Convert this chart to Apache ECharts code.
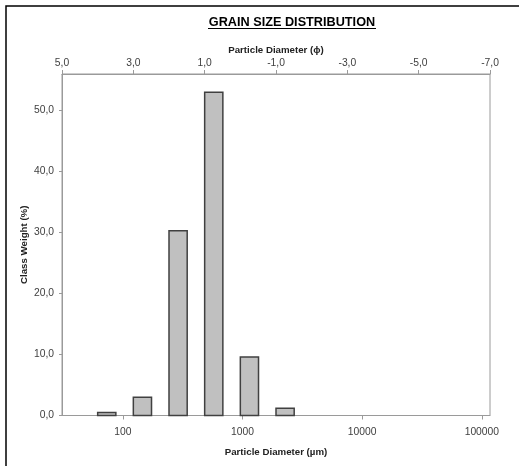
<!DOCTYPE html>
<html>
<head>
<meta charset="utf-8">
<script src="https://cdn.jsdelivr.net/npm/echarts@6/dist/echarts.min.js"></script>
<style>
html,body{margin:0;padding:0;background:#fff;}
#c{width:519px;height:466px;}
</style>
</head>
<body>
<div id="c"></div>
<script>
// Class lower bound in phi units (left edge of each bar on the phi axis)
const phiClasses = [4, 3, 2, 1, 0, -1];
// Class weight (%)
const classWeights = [0.5, 3.0, 30.3, 53.0, 9.6, 1.2];
// Phi axis tick labels run from 5,0 to -7,0 step 2
const phiMin = -7, phiMax = 5, phiStep = 2;
// Weight axis
const weightMax = 56, weightStep = 10;
// Micrometre axis extent (log)
const umMin = 31, umMax = 117000;

const BAR_W = 0.51; // bar width in phi units
const fmt1 = v => v.toFixed(1).replace('.', ',');
const FONT = 'Liberation Sans, Arial, sans-serif';
const AX = '#9a9a9a';
const TXT = '#404040';
const LBL = 10.3;
const NAME = 9.7;

const chart = echarts.init(document.getElementById('c'), null, {renderer: 'canvas'});
chart.setOption({
  animation: false,
  backgroundColor: '#fff',
  textStyle: {fontFamily: FONT},
  graphic: [
    {type: 'rect', shape: {x: 6, y: 6, width: 700, height: 700},
     style: {fill: null, stroke: '#000', lineWidth: 1.5}, silent: true},
    {type: 'text', x: 292, y: 22, silent: true,
     style: {text: 'GRAIN SIZE DISTRIBUTION', fill: '#000', align: 'center', verticalAlign: 'middle',
       font: 'bold 12.7px ' + FONT}},
    {type: 'line', shape: {x1: 208, y1: 28.5, x2: 376, y2: 28.5},
     style: {stroke: '#000', lineWidth: 1}, silent: true}
  ],
  grid: {left: 62, top: 74, right: 29, bottom: 50.5, show: true, borderColor: AX, borderWidth: 1},
  xAxis: [
    {
      type: 'log', logBase: 10, position: 'bottom', min: umMin, max: umMax,
      gridIndex: 0,
      axisLine: {show: true, onZero: false, lineStyle: {color: AX}},
      axisTick: {show: true, inside: false, length: 4, lineStyle: {color: AX}},
      splitLine: {show: false},
      axisLabel: {color: TXT, fontSize: LBL, margin: 12, showMinLabel: false, showMaxLabel: false,
        formatter: v => String(Math.round(v))},
      name: 'Particle Diameter (µm)', nameLocation: 'middle', nameGap: 32, nameMoveOverlap: false,
      nameTextStyle: {fontSize: NAME, fontWeight: 'bold', color: '#222'}
    },
    {
      type: 'value', position: 'top', inverse: true, min: phiMin, max: phiMax, interval: phiStep,
      gridIndex: 0,
      axisLine: {show: true, onZero: false, lineStyle: {color: AX}},
      axisTick: {show: true, inside: false, length: 4, lineStyle: {color: AX}},
      splitLine: {show: false},
      axisLabel: {color: TXT, fontSize: LBL, margin: 6, formatter: v => fmt1(v)},
      name: 'Particle Diameter (\u03D5)', nameLocation: 'middle', nameGap: 19, nameMoveOverlap: false,
      nameTextStyle: {fontSize: NAME, fontWeight: 'bold', color: '#222'}
    }
  ],
  yAxis: {
    type: 'value', min: 0, max: weightMax, interval: weightStep,
    axisLine: {show: true, onZero: false, lineStyle: {color: AX}},
    axisTick: {show: true, inside: false, length: 3, lineStyle: {color: AX}},
    splitLine: {show: false},
    axisLabel: {color: TXT, fontSize: LBL, margin: 8, showMaxLabel: false, formatter: v => fmt1(v)},
    name: 'Class Weight (%)', nameLocation: 'middle', nameGap: 33, nameRotate: 90, nameMoveOverlap: false,
    nameTextStyle: {fontSize: NAME, fontWeight: 'bold', color: '#222'}
  },
  series: [{
    type: 'custom',
    xAxisIndex: 1, yAxisIndex: 0,
    data: phiClasses.map((p, i) => [p, classWeights[i]]),
    renderItem: function (params, api) {
      const p = api.value(0), v = api.value(1);
      const a = api.coord([p, v]);
      const b = api.coord([p - BAR_W, 0]);
      return {
        type: 'rect',
        shape: {x: Math.min(a[0], b[0]), y: a[1], width: Math.abs(b[0] - a[0]), height: b[1] - a[1]},
        style: {fill: '#c0c0c0', stroke: '#404040', lineWidth: 1.5}
      };
    }
  }]
});
</script>
</body>
</html>
